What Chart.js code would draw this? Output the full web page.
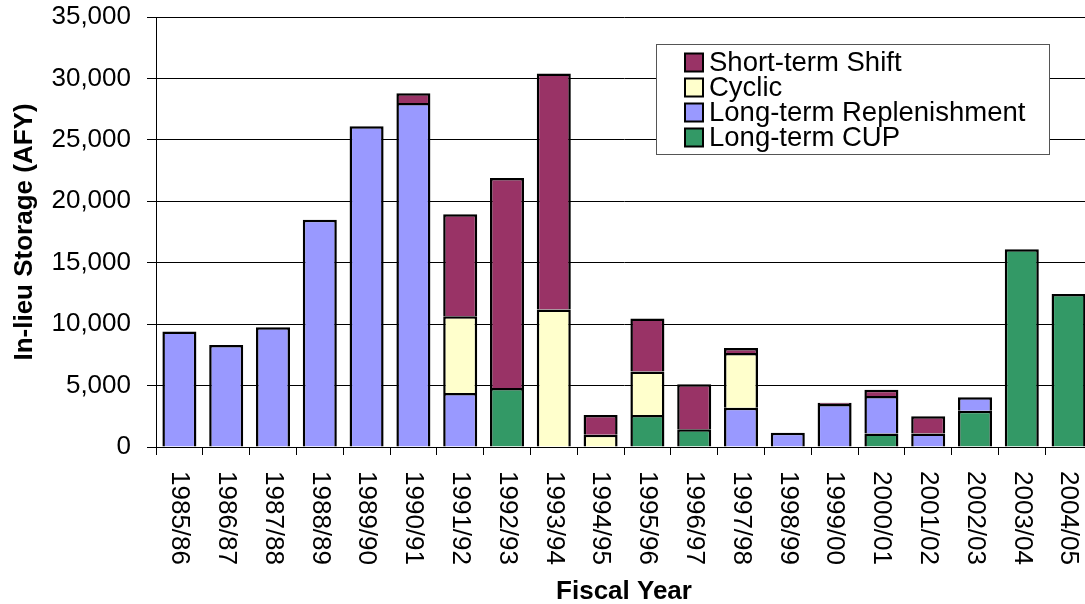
<!DOCTYPE html>
<html>
<head>
<meta charset="utf-8">
<script src="https://cdn.jsdelivr.net/npm/chart.js@4/dist/chart.umd.min.js"></script>
<style>
  html, body { margin: 0; padding: 0; background: #fff; overflow: hidden; }
  #wrap { position: relative; width: 1092px; height: 607px; }
</style>
</head>
<body>
<div id="wrap"><canvas id="chartStorage"></canvas></div>
<script>
var categories = ["1985/86", "1986/87", "1987/88", "1988/89", "1989/90", "1990/91", "1991/92", "1992/93", "1993/94", "1994/95",
                  "1995/96", "1996/97", "1997/98", "1998/99", "1999/00", "2000/01", "2001/02", "2002/03", "2003/04", "2004/05"];
var longTermCup = [null, null, null, null, null, null, null, 4800, null, null, 2600, 1450, null, null, null, 1100, null, 2950, 16100, 12450];
var longTermReplenishment = [9400, 8300, 9750, 18500, 26100, 28000, 4400, null, null, null, null, null, 3200, 1150, 3500, 3050, 1100, 1100, null, null];
var cyclic = [null, null, null, null, null, null, 6250, null, 11200, 1000, 3550, null, 4450, null, null, null, null, null, null, null];
var shortTermShift = [null, null, null, null, null, 800, 8300, 17100, 19200, 1600, 4300, 3650, 400, null, 100, 500, 1400, null, null, null];
var yTicks = [0, 5000, 10000, 15000, 20000, 25000, 30000, 35000];

var FONT = '"Liberation Sans", Arial, sans-serif';

// x labels read top-to-bottom and the legend sits in a framed box, so both are drawn here
var extras = {
    id: 'extras',
    afterDraw: function(chart) {
        var ctx = chart.ctx;
        var xs = chart.scales.x;
        ctx.save();
        ctx.fillStyle = '#000';
        ctx.font = '26px ' + FONT;
        ctx.textAlign = 'left';
        ctx.textBaseline = 'middle';
        categories.forEach(function(label, i) {
            ctx.save();
            ctx.translate(xs.getPixelForValue(i), 471);
            ctx.rotate(Math.PI / 2);
            ctx.fillText(label, 0, 0);
            ctx.restore();
        });

        // legend box
        ctx.fillStyle = '#fff';
        ctx.fillRect(656, 44, 393, 110);
        ctx.strokeStyle = '#555';
        ctx.lineWidth = 1;
        ctx.strokeRect(656.5, 44.5, 393, 110);
        ctx.font = '27.5px ' + FONT;
        var sets = chart.data.datasets.slice().reverse();
        sets.forEach(function(ds, i) {
            var cy = 62.5 + i * 25;
            ctx.fillStyle = ds.backgroundColor;
            ctx.fillRect(685, cy - 9, 18, 18);
            ctx.strokeStyle = '#000';
            ctx.lineWidth = 2;
            ctx.strokeRect(685, cy - 9, 18, 18);
            ctx.fillStyle = '#000';
            ctx.fillText(ds.label, 709, cy + 1);
        });
        ctx.restore();
    }
};

var storage = document.getElementById('chartStorage').getContext('2d');
var chart = new Chart(storage, {
    type: 'bar',
    data: {
        labels: categories,
        datasets: [
            { label: "Long-term CUP", data: longTermCup, backgroundColor: '#339966' },
            { label: "Long-term Replenishment", data: longTermReplenishment, backgroundColor: '#9999FF' },
            { label: "Cyclic", data: cyclic, backgroundColor: '#FFFFCC' },
            { label: "Short-term Shift", data: shortTermShift, backgroundColor: '#993366' }
        ]
    },
    options: {
        responsive: true,
        maintainAspectRatio: false,
        animation: false,
        layout: { padding: { top: 17, left: 0, right: 0, bottom: 0 } },
        datasets: {
            bar: {
                borderColor: '#000',
                borderWidth: 2.5,
                borderSkipped: 'start',
                categoryPercentage: 1,
                barPercentage: 0.727
            }
        },
        plugins: {
            legend: { display: false },
            tooltip: { enabled: false }
        },
        scales: {
            x: {
                stacked: true,
                afterFit: function(scale) { scale.height = 160; scale.paddingLeft = 0; scale.paddingRight = 0; },
                grid: { display: true, drawOnChartArea: false, drawTicks: true, tickLength: 8, color: '#000', offset: true },
                border: { display: true, color: '#000', width: 1 },
                ticks: { display: false },
                title: {
                    display: true,
                    text: 'Fiscal Year',
                    color: '#000',
                    font: { family: FONT, size: 26, weight: 'bold' },
                    padding: { top: 0, bottom: 0 }
                }
            },
            y: {
                stacked: true,
                min: 0,
                max: 35000,
                afterFit: function(scale) { scale.width = 156; scale.paddingTop = 0; scale.paddingBottom = 0; },
                afterBuildTicks: function(scale) {
                    scale.ticks = yTicks.map(function(v) { return { value: v }; });
                },
                grid: { color: '#000', lineWidth: 1, tickLength: 9, drawTicks: true },
                border: { display: true, color: '#000', width: 1 },
                ticks: {
                    color: '#000',
                    padding: 16,
                    font: { family: FONT, size: 26 },
                    callback: function(v) { return v.toLocaleString('en-US'); }
                },
                title: {
                    display: true,
                    text: 'In-lieu Storage (AFY)',
                    color: '#000',
                    font: { family: FONT, size: 26, weight: 'bold' },
                    padding: { top: 9, bottom: 0 }
                }
            }
        }
    },
    plugins: [extras]
});
</script>
</body>
</html>
